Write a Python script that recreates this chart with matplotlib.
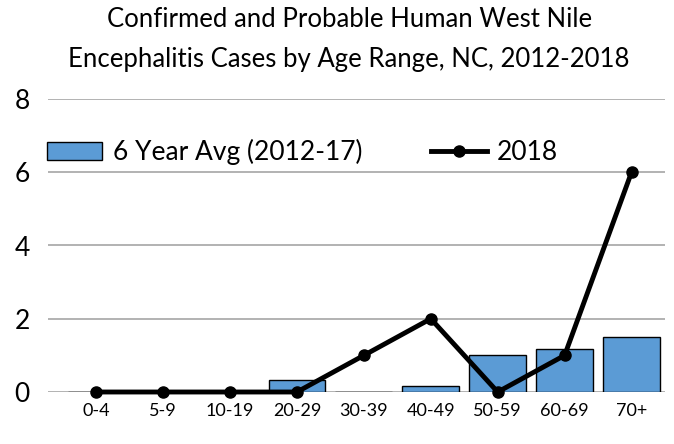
import matplotlib.pyplot as plt
import numpy as np

plt.rcParams['font.family'] = ['Lato', 'DejaVu Sans']

age_ranges = ['0-4', '5-9', '10-19', '20-29', '30-39', '40-49', '50-59', '60-69', '70+']
avg_2012_17 = [0, 0, 0, 0.33, 0, 0.17, 1.0, 1.17, 1.5]
cases_2018 = [0, 0, 0, 0, 1, 2, 0, 1, 6]

fig = plt.figure(figsize=(6.74, 4.44), dpi=100)
ax = fig.add_axes([48 / 674, 52 / 444, 617 / 674, 293 / 444])

x = np.arange(len(age_ranges))
bars = ax.bar(x, avg_2012_17, width=0.85, color='#5b9bd5', edgecolor='black', linewidth=1,
              label='6 Year Avg (2012-17)', zorder=2)
line, = ax.plot(x, cases_2018, color='black', linewidth=3.5, marker='o', markersize=8,
                label='2018', zorder=3, clip_on=False)

ax.set_ylim(0, 8)
ax.set_xlim(-0.72, 8.5)
ax.set_yticks([0, 2, 4, 6, 8])
ax.set_xticks(x)
ax.set_xticklabels(age_ranges, fontsize=13)
ax.tick_params(axis='y', labelsize=19, length=0, pad=13)
ax.tick_params(axis='x', length=0, pad=8)
ax.grid(axis='y', color='#a6a6a6', linewidth=1.2, zorder=0)
for s in ax.spines.values():
    s.set_visible(False)

ax.legend(handles=[bars, line], loc='upper left', bbox_to_anchor=(-0.04, 0.945), ncol=2,
          frameon=False, fontsize=19, handlelength=2.1, handleheight=0.7,
          columnspacing=2.6, handletextpad=0.4)

fig.text(0.518, 0.955, 'Confirmed and Probable Human West Nile', ha='center', va='center', fontsize=18.5)
fig.text(0.518, 0.865, 'Encephalitis Cases by Age Range, NC, 2012-2018', ha='center', va='center', fontsize=18.5)

fig.savefig('out.png', dpi=100)
